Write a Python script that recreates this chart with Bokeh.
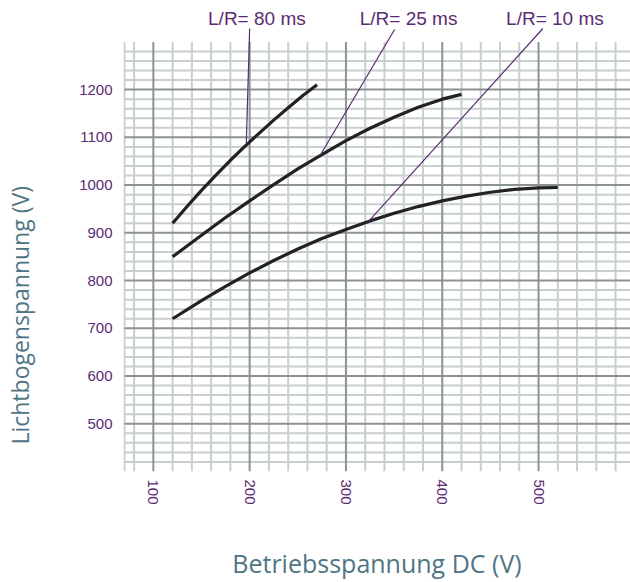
import math
from bokeh.plotting import figure
from bokeh.layouts import row
from bokeh.models import Range1d, FixedTicker, Label
from bokeh.core.properties import value
from bokeh.embed import file_html
from bokeh.resources import INLINE

# ---- data ----
x_80 = [120, 135, 150, 165, 180, 195, 210, 225, 240, 255, 270]
y_80 = [920, 955, 989, 1021, 1052, 1081, 1109, 1136, 1162, 1187, 1210]

x_25 = [120, 150, 175, 200, 225, 250, 275, 300, 325, 350, 375, 400, 420]
y_25 = [850, 895, 932, 967, 1001, 1034, 1064, 1093, 1119, 1142, 1163, 1180, 1190]

x_10 = [120, 150, 175, 200, 225, 250, 275, 300, 325, 350, 375, 400, 425, 450, 475, 500, 520]
y_10 = [720, 758, 788, 816, 842, 866, 888, 907, 925, 941, 955, 967, 977, 985, 991, 994, 995]

series_labels = ["L/R= 80 ms", "L/R= 25 ms", "L/R= 10 ms"]
label_x = [207.5, 365, 517]
label_y = [1349, 1349, 1349]
leader_x0 = [200, 350.5, 504.5]
leader_y0 = [1328, 1326, 1328]
leader_x1 = [196.5, 273.5, 323.5]
leader_y1 = [1085, 1063, 924]

x_ticks = [100, 200, 300, 400, 500]
y_ticks = [500, 600, 700, 800, 900, 1000, 1100, 1200]
x_minor = [70] + [v for v in range(80, 600, 20) if v % 100 != 0]
y_minor = [v for v in range(420, 1320, 20) if v % 100 != 0]

x_title = "Betriebsspannung DC (V)"
y_title = "Lichtbogenspannung (V)"

# ---- styling ----
PURPLE = "#5b2a72"
TEAL = "#4f7584"
MAJOR = "#8b9391"
MINOR = "#c8cfcf"
CURVE = "#222222"

XMIN, XMAX = 69, 595.5
YMIN, YMAX, YTOP = 400, 1300, 1386.7

# ---- narrow figure carrying the vertical axis title ----
t = figure(width=40, height=582, output_backend="svg", toolbar_location=None,
           x_range=Range1d(0, 40), y_range=Range1d(0, 582),
           x_axis_location=None, y_axis_location=None,
           min_border_left=0, min_border_right=0, min_border_top=0, min_border_bottom=0)
t.outline_line_color = None
t.grid.visible = False
t.text(x=[19], y=[193], text=[y_title], angle=math.pi / 2, text_align="center",
       text_baseline="middle", text_font=value("Open Sans"), text_font_size="23px",
       text_color=TEAL)

# ---- main chart ----
p = figure(width=590, height=582, output_backend="svg", toolbar_location=None,
           x_range=Range1d(XMIN, XMAX), y_range=Range1d(YMIN, YTOP),
           min_border_left=83, min_border_right=0, min_border_top=0,
           min_border_bottom=108)
p.outline_line_color = None
p.xgrid.visible = False
p.ygrid.visible = False

# grid lines (drawn inside 400..1300 only)
p.segment(x0=x_minor, x1=x_minor, y0=[YMIN] * len(x_minor), y1=[YMAX] * len(x_minor),
          line_color=MINOR, line_width=2)
p.segment(x0=[70] * len(y_minor), x1=[XMAX] * len(y_minor), y0=y_minor, y1=y_minor,
          line_color=MINOR, line_width=2)
p.segment(x0=x_ticks, x1=x_ticks, y0=[YMIN] * len(x_ticks), y1=[YMAX] * len(x_ticks),
          line_color=MAJOR, line_width=2)
p.segment(x0=[70] * len(y_ticks), x1=[XMAX] * len(y_ticks), y0=y_ticks, y1=y_ticks,
          line_color=MAJOR, line_width=2)

# curves
for xs, ys in [(x_80, y_80), (x_25, y_25), (x_10, y_10)]:
    p.line(xs, ys, line_color=CURVE, line_width=3.2, line_cap="butt", line_join="round")

# leader lines
p.segment(x0=leader_x0, y0=leader_y0, x1=leader_x1, y1=leader_y1,
          line_color=PURPLE, line_width=1.2)

for txt, lx, ly in zip(series_labels, label_x, label_y):
    p.add_layout(Label(x=lx, y=ly, text=txt, text_align="center", text_baseline="alphabetic",
                       text_font="Liberation Sans", text_font_size="19px", text_color=PURPLE))

# axes
xa = p.xaxis[0]
xa.ticker = FixedTicker(ticks=x_ticks)
xa.major_label_orientation = "vertical"
xa.major_label_standoff = 8
xa.major_tick_out = 0
xa.major_tick_in = 0
xa.minor_tick_line_color = None
xa.axis_line_color = None
xa.major_label_text_color = PURPLE
xa.major_label_text_font = "Liberation Sans"
xa.major_label_text_font_size = "15px"
xa.axis_label = x_title
xa.axis_label_standoff = 38
xa.axis_label_text_font = "Open Sans"
xa.axis_label_text_font_size = "25px"
xa.axis_label_text_font_style = "normal"
xa.axis_label_text_color = TEAL

ya = p.yaxis[0]
ya.ticker = FixedTicker(ticks=y_ticks)
ya.major_label_standoff = 11
ya.major_tick_out = 0
ya.major_tick_in = 0
ya.minor_tick_line_color = None
ya.axis_line_color = None
ya.major_label_text_color = PURPLE
ya.major_label_text_font = "Liberation Sans"
ya.major_label_text_font_size = "15px"

layout = row(t, p)
open("out.html", "w").write(file_html(layout, INLINE))
